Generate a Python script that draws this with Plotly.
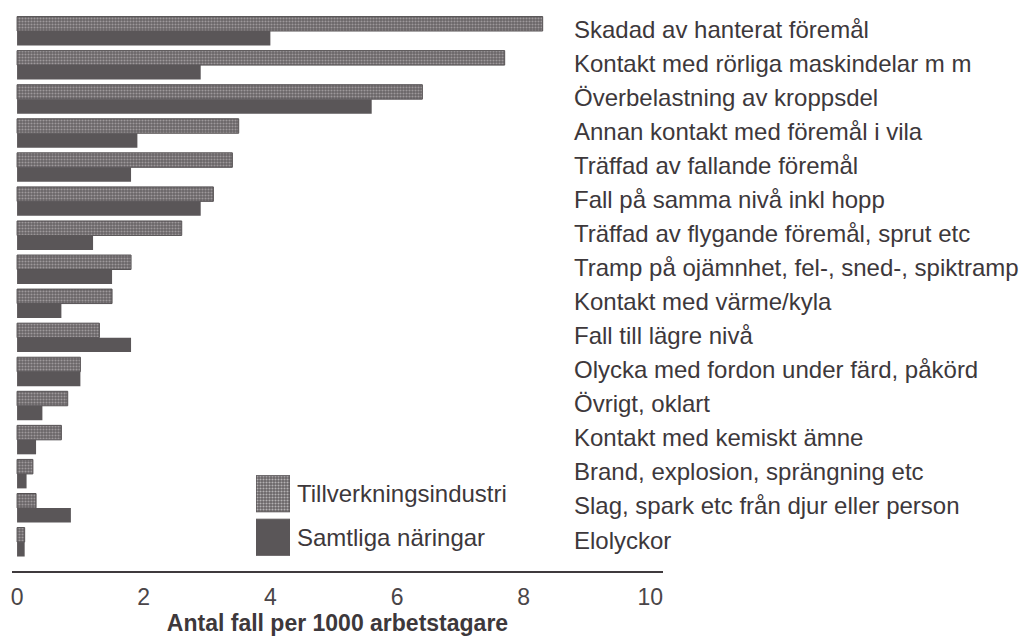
import plotly.graph_objects as go

categories = [
    "Skadad av hanterat föremål",
    "Kontakt med rörliga maskindelar m m",
    "Överbelastning av kroppsdel",
    "Annan kontakt med föremål i vila",
    "Träffad av fallande föremål",
    "Fall på samma nivå inkl hopp",
    "Träffad av flygande föremål, sprut etc",
    "Tramp på ojämnhet, fel-, sned-, spiktramp",
    "Kontakt med värme/kyla",
    "Fall till lägre nivå",
    "Olycka med fordon under färd, påkörd",
    "Övrigt, oklart",
    "Kontakt med kemiskt ämne",
    "Brand, explosion, sprängning etc",
    "Slag, spark etc från djur eller person",
    "Elolyckor",
]
tillverkning = [8.3, 7.7, 6.4, 3.5, 3.4, 3.1, 2.6, 1.8, 1.5, 1.3, 1.0, 0.8, 0.7, 0.25, 0.3, 0.12]
samtliga = [4.0, 2.9, 5.6, 1.9, 1.8, 2.9, 1.2, 1.5, 0.7, 1.8, 1.0, 0.4, 0.3, 0.15, 0.85, 0.12]
series_names = ["Tillverkningsindustri", "Samtliga näringar"]
x_ticks = [0, 2, 4, 6, 8, 10]
x_title = "Antal fall per 1000 arbetstagare"

TEXT = "#3d383b"
DARK = "#5a5658"
STIP_BG = "#686466"
STIP_FG = "#d2cecf"
FONT = "Liberation Sans, Arial, sans-serif"

W, H = 1021, 637
ML, MR, MT, MB = 12, 358, 14, 66
plot_w = W - ML - MR

fig = go.Figure()
fig.add_trace(go.Bar(
    y=categories, x=tillverkning, orientation="h", name=series_names[0],
    marker=dict(color=STIP_BG, line=dict(color="#575355", width=1),
                pattern=dict(shape=".", fgcolor=STIP_FG, bgcolor=STIP_BG,
                             size=3, solidity=0.4)),
    showlegend=False,
))
fig.add_trace(go.Bar(
    y=categories, x=samtliga, orientation="h", name=series_names[1],
    marker=dict(color=DARK, line=dict(color=DARK, width=0)),
    showlegend=False,
))

# legend glyphs drawn as a tiny bar subplot
fig.add_trace(go.Bar(
    y=series_names, x=[1, 1], orientation="h", xaxis="x2", yaxis="y2",
    width=0.83,
    marker=dict(color=[STIP_BG, DARK], line=dict(color=["#575355", DARK], width=1),
                pattern=dict(shape=[".", ""], fgcolor=STIP_FG, bgcolor=[STIP_BG, DARK],
                             size=3, solidity=0.4)),
    showlegend=False, hoverinfo="skip",
))

annotations = []
label_x = (572 - ML) / plot_w
for c in categories:
    annotations.append(dict(
        x=label_x, xref="paper", y=c, yref="y", text=c, showarrow=False,
        xanchor="left", yanchor="middle", yshift=2,
        font=dict(family=FONT, size=24, color=TEXT),
    ))
for s in series_names:
    annotations.append(dict(
        x=1, xref="x2 domain", y=s, yref="y2", text=s, showarrow=False,
        xanchor="left", yanchor="middle", xshift=5,
        font=dict(family=FONT, size=24, color=TEXT),
    ))

fig.update_layout(
    width=W, height=H,
    margin=dict(l=ML, r=MR, t=MT, b=MB, pad=0),
    paper_bgcolor="white", plot_bgcolor="white",
    barmode="group", bargap=0.15, bargroupgap=0,
    font=dict(family=FONT, color=TEXT),
    xaxis=dict(
        range=[-0.08, 10.2], tickvals=x_ticks, ticktext=[str(t) for t in x_ticks],
        showgrid=False, zeroline=False, showline=True, linecolor="#3f3a3d", linewidth=2,
        ticks="outside", ticklen=4, tickcolor="rgba(0,0,0,0)",
        tickfont=dict(family=FONT, size=23, color="#4a4548"),
        automargin=False,
        title=dict(text=x_title, standoff=0,
                   font=dict(family=FONT, size=23, color=TEXT, weight="bold")),
    ),
    yaxis=dict(
        type="category", categoryorder="array", categoryarray=categories,
        range=[15.85, -0.5], showticklabels=False, showgrid=False,
        zeroline=False, showline=False, ticks="", automargin=False,
    ),
    xaxis2=dict(domain=[(256 - ML) / plot_w, (290 - ML) / plot_w], anchor="y2",
                range=[0, 1], visible=False),
    yaxis2=dict(domain=[(571 - 559) / 557, (571 - 472) / 557], anchor="x2",
                type="category", categoryorder="array", categoryarray=series_names,
                autorange="reversed", visible=False),
    annotations=annotations,
)

fig.write_html(
    "out.html",
    config={"displayModeBar": False},
    post_script="document.body.style.margin='0';document.body.style.overflow='hidden';",
)
